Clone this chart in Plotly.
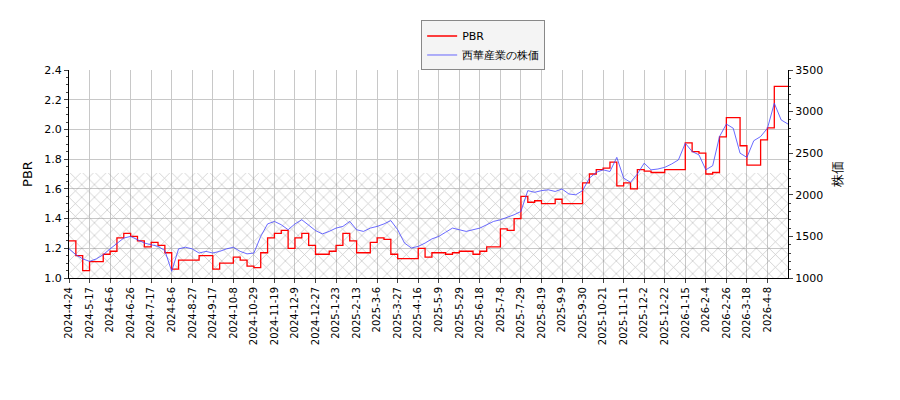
import plotly.graph_objects as go

# tick labels (every 15 trading days)
tick_labels = ['2024-4-24', '2024-5-17', '2024-6-6', '2024-6-26', '2024-7-17', '2024-8-6', '2024-8-27',
               '2024-9-17', '2024-10-8', '2024-10-29', '2024-11-19', '2024-12-9', '2024-12-27', '2025-1-23',
               '2025-2-13', '2025-3-6', '2025-3-27', '2025-4-16', '2025-5-9', '2025-5-29', '2025-6-18',
               '2025-7-8', '2025-7-29', '2025-8-19', '2025-9-9', '2025-9-30', '2025-10-21', '2025-11-11',
               '2025-12-2', '2025-12-22', '2026-1-15', '2026-2-4', '2026-2-26', '2026-3-18', '2026-4-8']

# sampled every 5 trading days
price = [1350, 1280, 1230, 1200, 1230, 1280, 1350, 1420, 1480, 1500, 1460, 1420,
         1400, 1380, 1330, 1080, 1350, 1370, 1350, 1300, 1320, 1300, 1320, 1350,
         1370, 1320, 1290, 1300, 1500, 1650, 1680, 1640, 1580, 1650, 1700, 1640,
         1570, 1530, 1560, 1600, 1620, 1680, 1580, 1560, 1600, 1620, 1650, 1690,
         1580, 1420, 1360, 1380, 1420, 1470, 1500, 1550, 1600, 1580, 1560, 1580,
         1600, 1640, 1680, 1700, 1730, 1760, 1800, 2050, 2030, 2050, 2060, 2040,
         2070, 2010, 2000, 2050, 2200, 2270, 2300, 2280, 2450, 2200, 2150, 2250,
         2380, 2300, 2310, 2330, 2370, 2420, 2620, 2520, 2480, 2300, 2350, 2700,
         2850, 2800, 2500, 2450, 2650, 2700, 2800, 3100, 2900, 2850]
pbr = [1.25, 1.15, 1.05, 1.11, 1.11, 1.16, 1.18, 1.27, 1.30, 1.28, 1.25, 1.21,
       1.24, 1.22, 1.17, 1.06, 1.12, 1.12, 1.12, 1.15, 1.15, 1.06, 1.10, 1.10,
       1.14, 1.12, 1.08, 1.07, 1.17, 1.27, 1.30, 1.32, 1.20, 1.27, 1.30, 1.22,
       1.16, 1.16, 1.18, 1.22, 1.30, 1.25, 1.17, 1.17, 1.24, 1.27, 1.26, 1.16,
       1.13, 1.13, 1.13, 1.20, 1.14, 1.17, 1.17, 1.16, 1.17, 1.18, 1.18, 1.16,
       1.18, 1.21, 1.21, 1.33, 1.32, 1.40, 1.55, 1.51, 1.52, 1.50, 1.50, 1.53,
       1.50, 1.50, 1.50, 1.64, 1.70, 1.73, 1.74, 1.78, 1.62, 1.64, 1.60, 1.73,
       1.72, 1.71, 1.71, 1.73, 1.73, 1.73, 1.91, 1.85, 1.84, 1.70, 1.71, 1.95,
       2.08, 2.08, 1.89, 1.76, 1.76, 1.93, 2.01, 2.29, 2.29, 2.29]

idx = [i * 5 for i in range(len(price))]
tickvals = [i * 15 for i in range(len(tick_labels))]
xmin, xmax = 0, idx[-1]

fig = go.Figure()

# hatched band
fig.add_trace(go.Bar(
    x=[(xmin + xmax) / 2], y=[0.71], base=[1.0], width=[xmax - xmin],
    marker=dict(color='rgba(0,0,0,0)', line=dict(width=0),
                pattern=dict(shape='x', fgcolor='#888888', bgcolor='rgba(0,0,0,0)', size=9, solidity=0.15)),
    showlegend=False, hoverinfo='skip'
))

fig.add_trace(go.Scatter(x=idx, y=pbr, name='PBR', mode='lines', line=dict(color='red', width=1.3, shape='hv')))
fig.add_trace(go.Scatter(x=idx, y=price, name='西華産業の株価', mode='lines', yaxis='y2',
                         line=dict(color='#4444ff', width=0.8)))

fig.update_layout(
    width=900, height=400,
    margin=dict(l=61, r=120, t=60, b=130),
    plot_bgcolor='white', paper_bgcolor='white',
    font=dict(family='DejaVu Sans', size=11, color='black'),
    bargap=0,
    xaxis=dict(range=[xmin, xmax], tickvals=tickvals, ticktext=tick_labels, tickangle=-90,
               showgrid=True, gridcolor='#c8c8c8', ticks='outside', ticklen=4, automargin=False,
               showline=True, linecolor='black', zeroline=False, tickfont=dict(size=10)),
    yaxis=dict(title=dict(text='PBR', standoff=8), range=[1.0, 2.4], dtick=0.2, tickformat='.1f',
               showgrid=True, gridcolor='#c8c8c8', ticks='outside', ticklen=4, automargin=False,
               minor=dict(dtick=0.05, ticks='outside', ticklen=2, showgrid=False),
               showline=True, linecolor='black', zeroline=False),
    yaxis2=dict(title=dict(text='株価', standoff=10), overlaying='y', side='right', range=[1000, 3500], dtick=500,
                showgrid=False, ticks='outside', ticklen=4, automargin=False,
                minor=dict(dtick=100, ticks='outside', ticklen=2),
                showline=True, linecolor='black', zeroline=False),
    legend=dict(x=0.576, y=1.238, xanchor='center', yanchor='top', bgcolor='#f4f4f4',
                bordercolor='#888888', borderwidth=1, font=dict(size=11)),
)

fig.write_html('out.html')
